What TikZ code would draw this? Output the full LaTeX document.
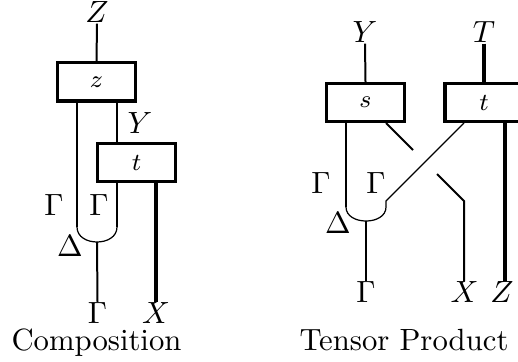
\documentclass[tikz,border=0pt]{standalone}
\usetikzlibrary{calc}

\tikzset{
  lbl/.style={inner sep=0pt},
  box/.style={draw,line width=1pt,minimum width=25.4pt,minimum height=12.4pt,
    inner sep=0pt,font=\footnotesize},
  wire/.style={line width=0.65pt},
  thick wire/.style={line width=1pt},
  thin wire/.style={line width=0.4pt}
}

\begin{document}
\begin{tikzpicture}[x=0.3257pt,y=-0.3257pt]
  \useasboundingbox (0,0) rectangle (518,362);

  % composition
  \node[lbl] (Ztop) at (97,12.5) {$Z$};
  \node[box] (boxz) at (96.5,82) {$z$};
  \node[box] (boxt) at (136.5,162.5) {$t$};
  \node[lbl] (Ymid) at (140,123) {$Y$};
  \node[lbl] (GamL) at (54,205) {$\Gamma$};
  \node[lbl] (GamR) at (99,205) {$\Gamma$};
  \node[lbl] (Delta) at (70,246) {$\Delta$};
  \node[lbl] (Gbot) at (97.5,313) {$\Gamma$};
  \node[lbl] (Xbot) at (156,313) {$X$};
  \node[anchor=base] (capc) at (96.5,350) {Composition};

  \coordinate (cupl) at (77,227);
  \coordinate (cupr) at (117,227);
  \coordinate (cupb) at (97,242);

  \draw[wire] (Ztop.south) -- (boxz.north);
  \draw[wire] (boxz.south -| cupl) -- (cupl);
  \draw[wire] (boxz.south -| cupr) -- (boxt.north -| cupr);
  \draw[wire] (boxt.south -| cupr) -- (cupr);
  \draw[thin wire] (cupl) .. controls (77,247) and (117,247) .. (cupr);
  \draw[wire] (cupb) -- (Gbot.north);
  \draw[thick wire] (boxt.south -| Xbot) -- (Xbot.north);

  % tensor product
  \node[lbl] (Ytop) at (365,32.5) {$Y$};
  \node[lbl] (Ttop) at (484,32.5) {$T$};
  \node[box] (boxs) at (365.5,102.5) {$s$};
  \node[box] (boxtt) at (484,102.5) {$t$};
  \node[lbl] (GamL2) at (321,183) {$\Gamma$};
  \node[lbl] (GamR2) at (376,183) {$\Gamma$};
  \node[lbl] (Delta2) at (338,223) {$\Delta$};
  \node[lbl] (Gbot2) at (366,292.5) {$\Gamma$};
  \node[lbl] (Xbot2) at (464.5,292.5) {$X$};
  \node[lbl] (Zbot2) at (502,292.5) {$Z$};
  \node[anchor=base] (capt) at (404,350) {Tensor Product};

  \coordinate (cupl2) at (346,207);
  \coordinate (cupr2) at (386,207);
  \coordinate (cupb2) at (366,221);
  \coordinate (sa) at (386,123);
  \coordinate (sb) at (413,150);
  \coordinate (sc) at (437,174);
  \coordinate (sd) at (464,201);
  \coordinate (ta) at (464,123);
  \coordinate (tb) at (386,201);
  \coordinate (zw) at (505,281);

  \draw[wire] (Ytop.south) -- (boxs.north);
  \draw[thick wire] (Ttop.south) -- (boxtt.north);
  \draw[wire] (boxs.south -| cupl2) -- (cupl2);
  \draw[wire] (sa) -- (sb);
  \draw[wire] (sc) -- (sd) -- (Xbot2.north -| sd);
  \draw[thin wire] (ta) -- (tb) -- (cupr2);
  \draw[thin wire] (cupl2) .. controls (346,225.7) and (386,225.7) .. (cupr2);
  \draw[wire] (cupb2) -- (Gbot2.north);
  \draw[thick wire] (boxtt.south -| zw) -- (zw);
\end{tikzpicture}
\end{document}
